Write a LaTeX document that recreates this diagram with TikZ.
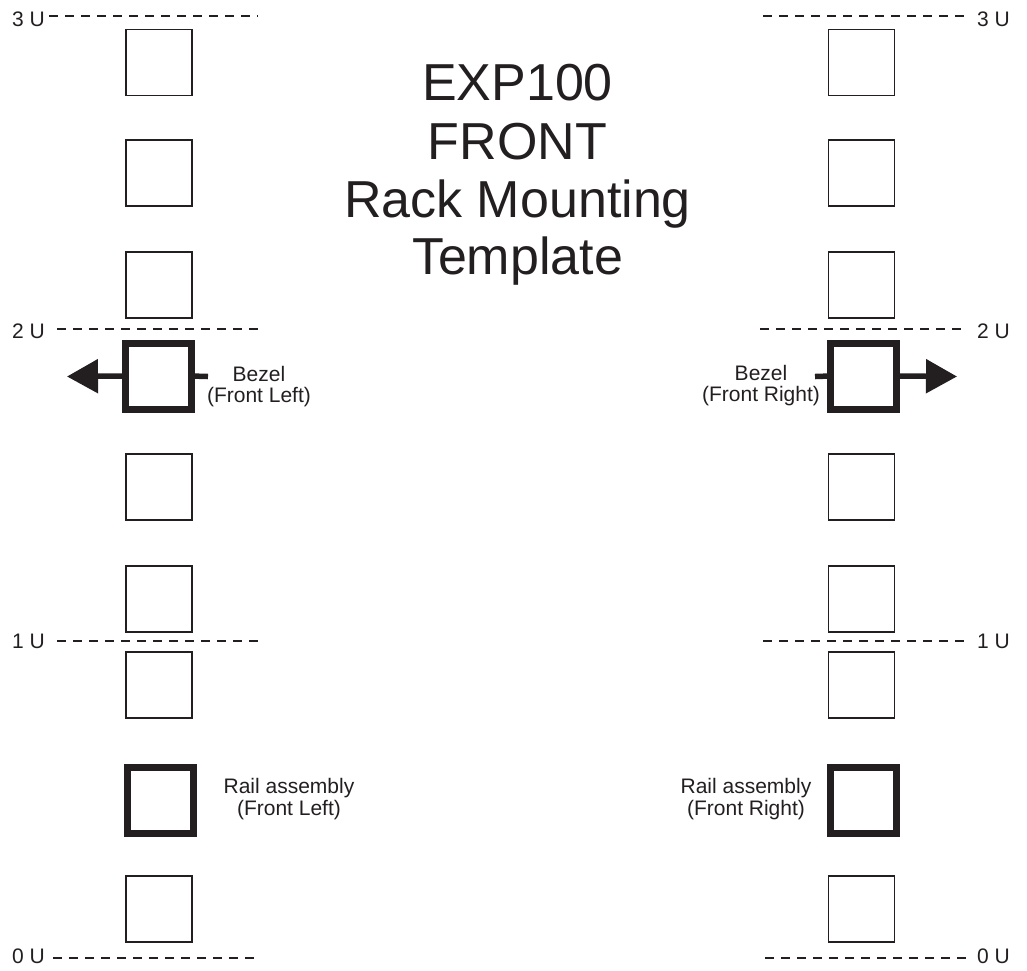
\documentclass[tikz,border=0pt]{standalone}
\usepackage{fontspec}
\setmainfont{Liberation Sans}
\usetikzlibrary{arrows.meta}
\definecolor{ink}{HTML}{231F20}
\begin{document}
\begin{tikzpicture}[x=1pt,y=-1pt,
  hole/.style={draw=ink,line width=1.2pt,minimum size=66pt,inner sep=0pt,outer sep=0pt},
  heavyhole/.style={draw=ink,line width=7pt,minimum size=66pt,inner sep=0pt,outer sep=0pt},
  small/.style={font=\fontsize{21}{24}\selectfont,text=ink,inner sep=0pt},
  titletext/.style={font=\fontsize{52}{52}\selectfont,text=ink,inner sep=0pt,anchor=base},
  uline/.style={draw=ink,line width=1.5pt,dash pattern=on 9pt off 7pt},
  pointer/.style={draw=ink,line width=5.5pt,-{Triangle[length=31pt,width=33pt]},fill=ink},
  stub/.style={draw=ink,line width=5.5pt},
]
\useasboundingbox (0,0) rectangle (1027,970);

% ---- title ----
\node[titletext] (t1) at (517.5,100) {EXP100};
\node[titletext] (t2) at (517.5,159) {FRONT};
\node[titletext] (t3) at (517.5,217) {Rack Mounting};
\node[titletext] (t4) at (517.5,274) {Template};

% ---- U labels and dashed lines, left ----
\node[small,anchor=base west] (lu3) at (12,26) {3 U};
\node[small,anchor=base west] (lu2) at (12,338) {2 U};
\node[small,anchor=base west] (lu1) at (12,648) {1 U};
\node[small,anchor=base west] (lu0) at (12,963) {0 U};
\coordinate (l3s) at (49,16);    \coordinate (l3e) at (258,16);
\coordinate (l2s) at (57,329);   \coordinate (l2e) at (262,329);
\coordinate (l1s) at (57,641);   \coordinate (l1e) at (258,641);
\coordinate (l0s) at (53,958);   \coordinate (l0e) at (258,958);
\draw[uline] (l3s) -- (l3e);
\draw[uline] (l2s) -- (l2e);
\draw[uline] (l1s) -- (l1e);
\draw[uline] (l0s) -- (l0e);

% ---- U labels and dashed lines, right ----
\node[small,anchor=base west] (ru3) at (977,26) {3 U};
\node[small,anchor=base west] (ru2) at (977,338) {2 U};
\node[small,anchor=base west] (ru1) at (977,648) {1 U};
\node[small,anchor=base west] (ru0) at (977,963) {0 U};
\coordinate (r3s) at (763,16);    \coordinate (r3e) at (970,16);
\coordinate (r2s) at (760,329);   \coordinate (r2e) at (967,329);
\coordinate (r1s) at (763,641);   \coordinate (r1e) at (970,641);
\coordinate (r0s) at (765,958);   \coordinate (r0e) at (973,958);
\draw[uline] (r3s) -- (r3e);
\draw[uline] (r2s) -- (r2e);
\draw[uline] (r1s) -- (r1e);
\draw[uline] (r0s) -- (r0e);

% ---- left column of holes ----
\node[hole] (lh1) at (159,62.5) {};
\node[hole] (lh2) at (159,173) {};
\node[hole] (lh3) at (159,285) {};
\node[heavyhole] (bzL) at (158,376) {};
\node[hole] (lh5) at (159,487) {};
\node[hole] (lh6) at (159,599) {};
\node[hole] (lh7) at (159,685) {};
\node[heavyhole] (rlL) at (160,800) {};
\node[hole] (lh9) at (159,909) {};

% ---- right column of holes ----
\node[hole] (rh1) at (861.5,62.5) {};
\node[hole] (rh2) at (861.5,173) {};
\node[hole] (rh3) at (861.5,285) {};
\node[heavyhole] (bzR) at (863.5,376) {};
\node[hole] (rh5) at (861.5,487) {};
\node[hole] (rh6) at (861.5,599) {};
\node[hole] (rh7) at (861.5,685) {};
\node[heavyhole] (rlR) at (863.5,800) {};
\node[hole] (rh9) at (861.5,909) {};

% ---- bezel pointers ----
\coordinate (bzLtip) at (67,376.5);
\coordinate (bzLstub) at (208,376.5);
\coordinate (bzRtip) at (957,376.5);
\coordinate (bzRstub) at (815,376.5);
\draw[pointer] (bzL.west) -- (bzLtip);
\draw[stub] (bzL.east) -- (bzLstub);
\draw[pointer] (bzR.east) -- (bzRtip);
\draw[stub] (bzRstub) -- (bzR.west);

% ---- labels ----
\node[small,anchor=base] (bzLa) at (259,381) {Bezel};
\node[small,anchor=base] (bzLb) at (259,402) {(Front Left)};
\node[small,anchor=base] (bzRa) at (761,380) {Bezel};
\node[small,anchor=base] (bzRb) at (761,401) {(Front Right)};
\node[small,anchor=base] (rlLa) at (289,793) {Rail assembly};
\node[small,anchor=base] (rlLb) at (289,815) {(Front Left)};
\node[small,anchor=base] (rlRa) at (746,793) {Rail assembly};
\node[small,anchor=base] (rlRb) at (746,815) {(Front Right)};
\end{tikzpicture}
\end{document}
